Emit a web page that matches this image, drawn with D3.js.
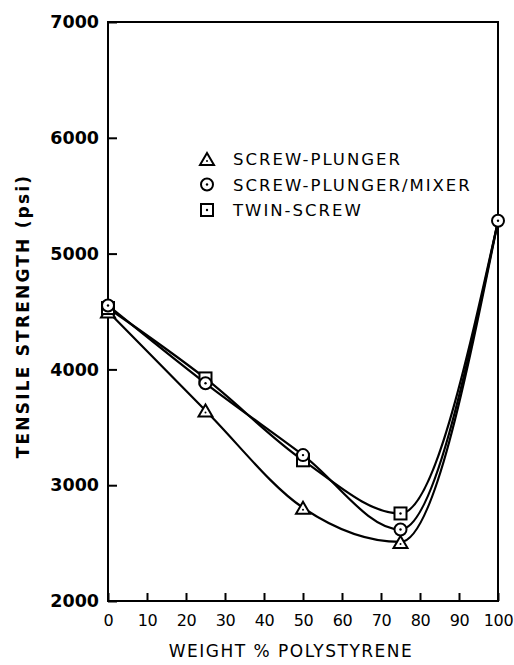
<!DOCTYPE html>
<html><head><meta charset="utf-8">
<script src="https://cdn.jsdelivr.net/npm/d3@7"></script>
<style>body{margin:0;background:#fff}svg{display:block}</style>
</head><body><div id="chart"></div>
<script>
const xTicks = [0,10,20,30,40,50,60,70,80,90,100];
const yTicks = [2000,3000,4000,5000,6000,7000];
const xValues = [0,25,50,75,100];
const screwPlunger = [4500,3645,2805,2510,5280];
const screwPlungerMixer = [4552,3880,3260,2618,5284];
const twinScrew = [4530,3922,3215,2756,5280];
const seriesNames = ["SCREW-PLUNGER","SCREW-PLUNGER/MIXER","TWIN-SCREW"];
const seriesShapes = ["triangle","circle","square"];

const W=514,H=665;
const m={left:108,right:16,top:22,bottom:64};
const svg=d3.select("#chart").append("svg").attr("width",W).attr("height",H);
const x=d3.scaleLinear().domain([0,100]).range([m.left,W-m.right]);
const y=d3.scaleLinear().domain([2000,7000]).range([H-m.bottom,m.top]);
const font="'DejaVu Sans', sans-serif";

svg.append("rect").attr("x",x(0)).attr("y",y(7000)).attr("width",x(100)-x(0)).attr("height",y(2000)-y(7000))
  .attr("fill","none").attr("stroke","#000").attr("stroke-width",2);

const xa=svg.append("g").attr("transform",`translate(0,${y(2000)})`)
  .call(d3.axisBottom(x).tickValues(xTicks).tickSize(-8).tickPadding(14).tickFormat(d3.format("d")));
xa.select(".domain").remove();
xa.selectAll("line").attr("stroke-width",2);
xa.selectAll("text").attr("font-family",font).attr("font-size",16).attr("letter-spacing",-0.3).attr("fill","#000");

const ya=svg.append("g").attr("transform",`translate(${x(0)},0)`)
  .call(d3.axisLeft(y).tickValues(yTicks).tickSize(-9).tickPadding(9).tickFormat(d3.format("d")));
ya.select(".domain").remove();
ya.selectAll("line").attr("stroke-width",2);
ya.selectAll("text").attr("font-family",font).attr("font-size",17.5).attr("font-weight","bold").attr("fill","#000");

svg.append("text").attr("x",(x(0)+x(100))/2-12).attr("y",657).attr("text-anchor","middle")
  .attr("font-family",font).attr("font-size",17).attr("letter-spacing",1.5).text("WEIGHT % POLYSTYRENE");
svg.append("text").attr("transform",`translate(29,${316}) rotate(-90)`).attr("text-anchor","middle")
  .attr("font-family",font).attr("font-size",17).attr("font-weight","bold").attr("letter-spacing",2.2).text("TENSILE  STRENGTH (psi)");

const allSeries=[screwPlunger,screwPlungerMixer,twinScrew];
const line=d3.line().x(d=>x(d[0])).y(d=>y(d[1])).curve(d3.curveMonotoneX);
allSeries.forEach(vals=>{
  svg.append("path").datum(xValues.map((v,i)=>[v,vals[i]])).attr("d",line)
    .attr("fill","none").attr("stroke","#000").attr("stroke-width",2.2);
});

function marker(g,shape,cx,cy){
  if(shape==="triangle"){
    g.append("path").attr("d",`M${cx},${cy-6}L${cx+7},${cy+6}L${cx-7},${cy+6}Z`).attr("fill","#fff").attr("stroke","#000").attr("stroke-width",2);
    g.append("circle").attr("cx",cx).attr("cy",cy+2).attr("r",1).attr("fill","#000");
  } else if(shape==="circle"){
    g.append("circle").attr("cx",cx).attr("cy",cy).attr("r",6).attr("fill","#fff").attr("stroke","#000").attr("stroke-width",2);
    g.append("circle").attr("cx",cx).attr("cy",cy).attr("r",1.2).attr("fill","#000");
  } else {
    g.append("rect").attr("x",cx-6).attr("y",cy-6).attr("width",12).attr("height",12).attr("fill","#fff").attr("stroke","#000").attr("stroke-width",2);
    g.append("circle").attr("cx",cx).attr("cy",cy).attr("r",1.2).attr("fill","#000");
  }
}
const mg=svg.append("g");
[0,2,1].forEach(si=>{
  xValues.forEach((v,i)=>{ if(!(v===100 && si!==1)) marker(mg,seriesShapes[si],x(v),y(allSeries[si][i])); });
});

const lg=svg.append("g");
seriesNames.forEach((n,i)=>{
  const ly=159+i*25.5;
  marker(lg,seriesShapes[i],207,ly);
  lg.append("text").attr("x",233).attr("y",ly+6).attr("font-family",font).attr("font-size",16.5).attr("letter-spacing",2).text(n);
});
</script></body></html>
